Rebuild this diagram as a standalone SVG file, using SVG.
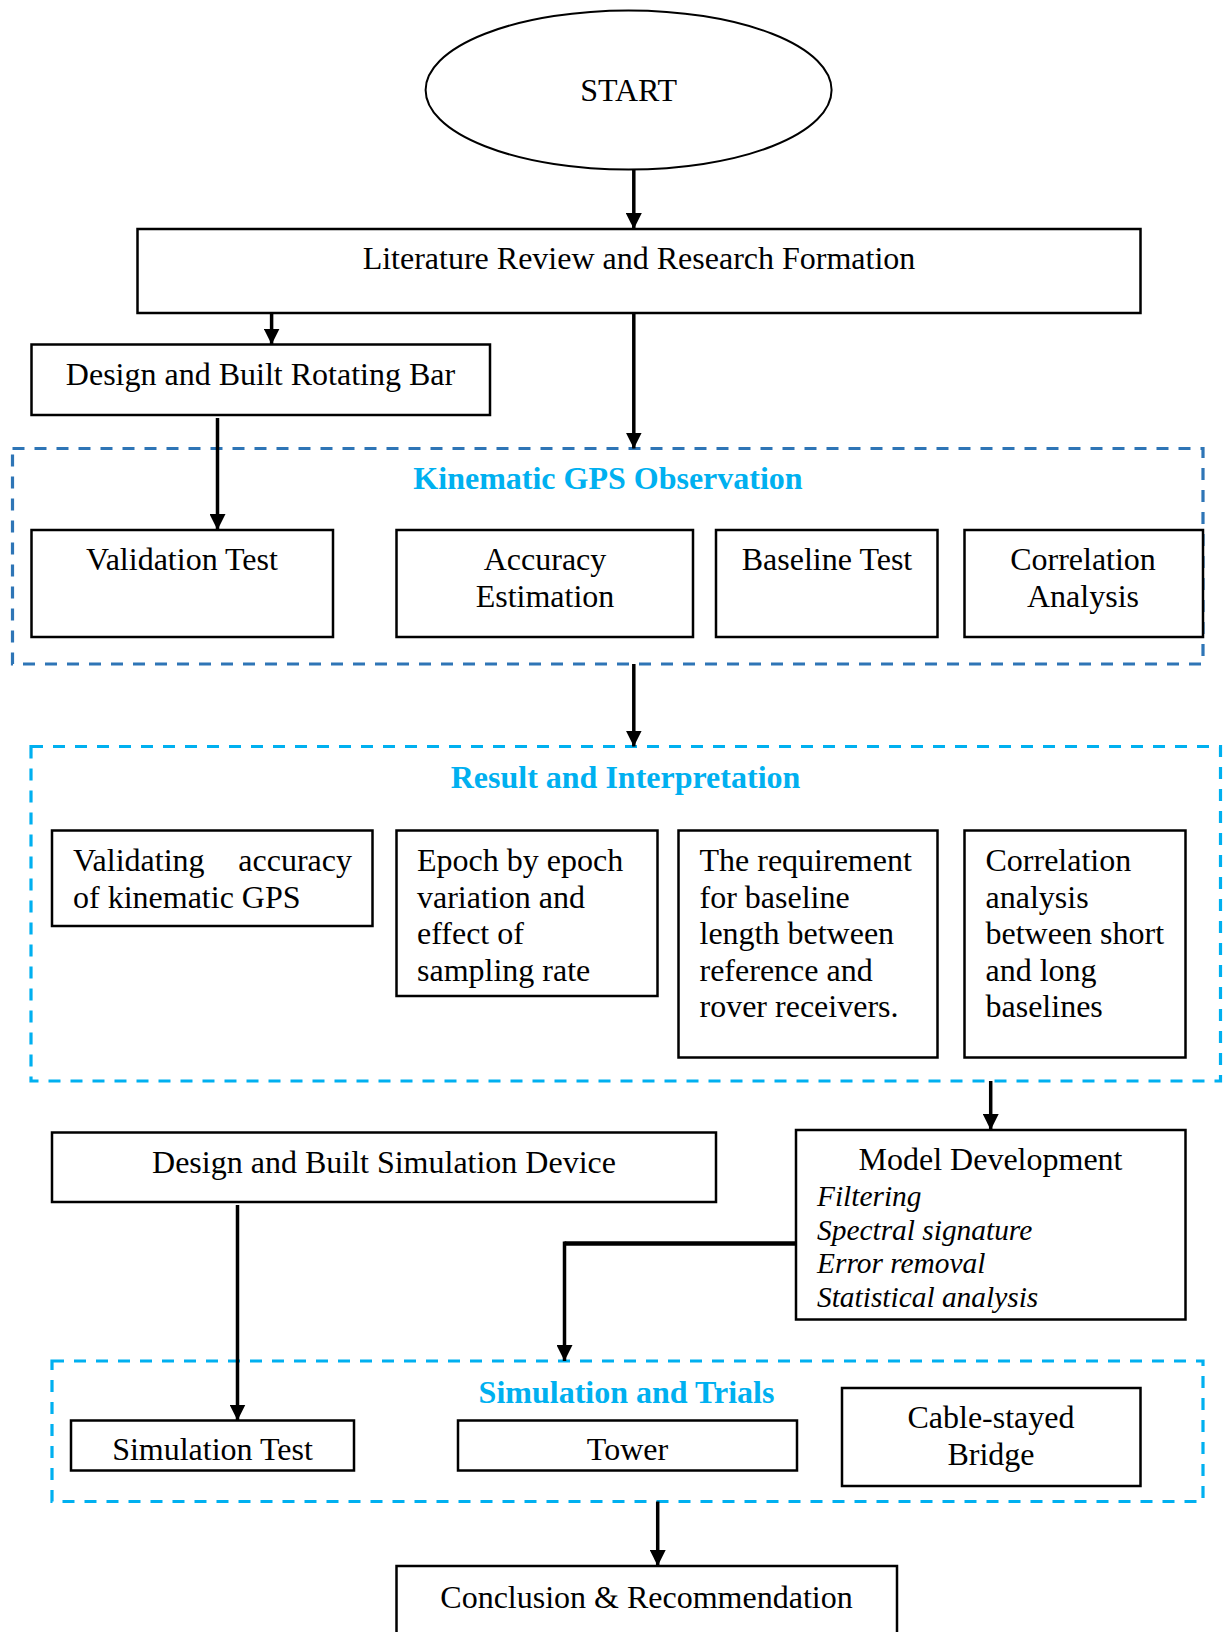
<svg xmlns="http://www.w3.org/2000/svg" width="1227" height="1632" viewBox="0 0 1227 1632">
<defs>
<style>
.box{fill:#fff;stroke:#000;stroke-width:2.5}
.t{font-family:"Liberation Serif","Times New Roman",serif;font-size:32px;fill:#000}
.c{text-anchor:middle}
.it{font-family:"Liberation Serif","Times New Roman",serif;font-size:29.4px;font-style:italic;fill:#000}
.ttl{font-family:"Liberation Serif","Times New Roman",serif;font-size:32px;font-weight:bold;fill:#00B0F0;text-anchor:middle}
.dash1{fill:none;stroke:#2E75B6;stroke-width:3.2;stroke-dasharray:12 10}
.dash2{fill:none;stroke:#00B0F0;stroke-width:3.2;stroke-dasharray:12 10}
.ln{fill:none;stroke:#000;stroke-width:3.5}
</style>
<marker id="ah" markerUnits="userSpaceOnUse" markerWidth="16" markerHeight="16" viewBox="0 0 14 14" refX="14" refY="7" orient="auto">
<path d="M0,0 L14,7 L0,14 z" fill="#000"/>
</marker>
</defs>
<rect width="1227" height="1632" fill="#fff"/>

<!-- group containers -->
<g id="kinematic-group">
<rect class="dash1" x="12.5" y="448.5" width="1190.5" height="215.5"/>
<text class="ttl" x="608" y="489">Kinematic GPS Observation</text>
</g>
<g id="result-group">
<rect class="dash2" x="31" y="746.5" width="1189.5" height="334.5"/>
<text class="ttl" x="625.5" y="788">Result and Interpretation</text>
</g>
<g id="simulation-group">
<rect class="dash2" x="52" y="1361" width="1151" height="140.5"/>
<text class="ttl" x="626.5" y="1403">Simulation and Trials</text>
</g>

<!-- nodes -->
<g id="start">
<ellipse cx="628.6" cy="90" rx="203" ry="79.6" fill="#fff" stroke="#000" stroke-width="2"/>
<text class="t c" x="628.6" y="101">START</text>
</g>
<g id="literature">
<rect class="box" x="137.5" y="229" width="1003" height="84"/>
<text class="t c" x="639" y="269">Literature Review and Research Formation</text>
</g>
<g id="rotating-bar">
<rect class="box" x="31.5" y="344.5" width="458.5" height="70.5"/>
<text class="t c" x="260.5" y="385">Design and Built Rotating Bar</text>
</g>
<g id="validation-test">
<rect class="box" x="31.5" y="530" width="301.5" height="107"/>
<text class="t c" x="182" y="570">Validation Test</text>
</g>
<g id="accuracy-estimation">
<rect class="box" x="396.5" y="530" width="296.5" height="107"/>
<text class="t c" x="545" y="570">Accuracy</text>
<text class="t c" x="545" y="607">Estimation</text>
</g>
<g id="baseline-test">
<rect class="box" x="716" y="530" width="221.5" height="107"/>
<text class="t c" x="827" y="570">Baseline Test</text>
</g>
<g id="correlation-analysis">
<rect class="box" x="964.5" y="530" width="238.5" height="107"/>
<text class="t c" x="1083" y="570">Correlation</text>
<text class="t c" x="1083" y="607">Analysis</text>
</g>
<g id="validating-accuracy">
<rect class="box" x="52" y="830.5" width="320.5" height="95.5"/>
<text class="t" x="73" y="871">Validating</text>
<text class="t" x="352" y="871" text-anchor="end">accuracy</text>
<text class="t" x="73" y="907.5">of kinematic GPS</text>
</g>
<g id="epoch-variation">
<rect class="box" x="396.5" y="830.5" width="261" height="165.5"/>
<text class="t" x="417" y="871">Epoch by epoch</text>
<text class="t" x="417" y="907.5">variation and</text>
<text class="t" x="417" y="944">effect of</text>
<text class="t" x="417" y="980.5">sampling rate</text>
</g>
<g id="baseline-requirement">
<rect class="box" x="678.5" y="830.5" width="259" height="227"/>
<text class="t" x="699.5" y="871">The requirement</text>
<text class="t" x="699.5" y="907.5">for baseline</text>
<text class="t" x="699.5" y="944">length between</text>
<text class="t" x="699.5" y="980.5">reference and</text>
<text class="t" x="699.5" y="1017">rover receivers.</text>
</g>
<g id="correlation-short-long">
<rect class="box" x="964.5" y="830.5" width="221" height="227"/>
<text class="t" x="985.5" y="871">Correlation</text>
<text class="t" x="985.5" y="907.5">analysis</text>
<text class="t" x="985.5" y="944">between short</text>
<text class="t" x="985.5" y="980.5">and long</text>
<text class="t" x="985.5" y="1017">baselines</text>
</g>
<g id="simulation-device">
<rect class="box" x="52" y="1132.5" width="664" height="69.5"/>
<text class="t c" x="384" y="1173">Design and Built Simulation Device</text>
</g>
<g id="model-development">
<rect class="box" x="796" y="1130" width="389.5" height="189.5"/>
<text class="t c" x="990.5" y="1170">Model Development</text>
<text class="it" x="817" y="1206">Filtering</text>
<text class="it" x="817" y="1239.5">Spectral signature</text>
<text class="it" x="817" y="1273">Error removal</text>
<text class="it" x="817" y="1306.5">Statistical analysis</text>
</g>
<g id="simulation-test">
<rect class="box" x="71" y="1420.5" width="283" height="50"/>
<text class="t c" x="212.5" y="1460">Simulation Test</text>
</g>
<g id="tower">
<rect class="box" x="458" y="1420.5" width="339" height="50"/>
<text class="t c" x="627.5" y="1460">Tower</text>
</g>
<g id="cable-stayed-bridge">
<rect class="box" x="842" y="1388" width="298.5" height="98"/>
<text class="t c" x="991" y="1428">Cable-stayed</text>
<text class="t c" x="991" y="1465">Bridge</text>
</g>
<g id="conclusion">
<rect class="box" x="396.5" y="1566" width="500.5" height="80"/>
<text class="t c" x="646.5" y="1608">Conclusion &amp; Recommendation</text>
</g>

<!-- connectors -->
<g id="connectors">
<line class="ln" x1="633.8" y1="169.6" x2="633.8" y2="229" marker-end="url(#ah)"/>
<line class="ln" x1="271.6" y1="313" x2="271.6" y2="344.5" marker-end="url(#ah)"/>
<line class="ln" x1="633.8" y1="313" x2="633.8" y2="448.5" marker-end="url(#ah)"/>
<line class="ln" x1="217.5" y1="418" x2="217.5" y2="530" marker-end="url(#ah)"/>
<line class="ln" x1="633.8" y1="664" x2="633.8" y2="746.5" marker-end="url(#ah)"/>
<line class="ln" x1="990.7" y1="1081" x2="990.7" y2="1130" marker-end="url(#ah)"/>
<polyline fill="none" stroke="#000" stroke-width="4.5" points="796,1243.5 564.5,1243.5"/>
<line class="ln" x1="564.5" y1="1241.5" x2="564.5" y2="1361" marker-end="url(#ah)"/>
<line class="ln" x1="237.5" y1="1205" x2="237.5" y2="1420.5" marker-end="url(#ah)"/>
<line class="ln" x1="657.7" y1="1501.5" x2="657.7" y2="1566" marker-end="url(#ah)"/>
</g>
</svg>
